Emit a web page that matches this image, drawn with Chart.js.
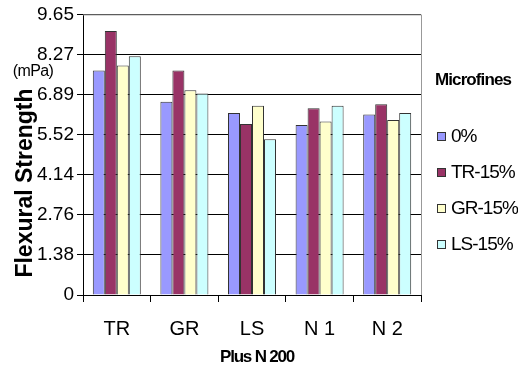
<!DOCTYPE html>
<html>
<head>
<meta charset="utf-8">
<script src="https://cdn.jsdelivr.net/npm/chart.js@4/dist/chart.umd.min.js"></script>
<style>
  html, body { margin: 0; padding: 0; background: #fff; }
  #wrap { position: relative; width: 518px; height: 371px; }
  #legend { position: absolute; left: 435px; top: 70px; font-family: 'Liberation Sans', Arial, sans-serif; color: #000; }
  #legend .title { font-weight: bold; font-size: 17px; height: 48px; letter-spacing: -0.9px; }
  #legend .item { font-size: 19px; height: 36px; display: flex; align-items: center; letter-spacing: -1px; }
  #legend .box { width: 7px; height: 7px; border: 1px solid #333; margin-right: 5px; margin-left: 2px; }
</style>
</head>
<body>
<div id="wrap">
  <canvas id="chart" width="518" height="371"></canvas>
  <div id="legend"><div class="title">Microfines</div></div>
</div>
<script>
const categories = ["TR", "GR", "LS", "N 1", "N 2"];
const seriesNames = ["0%", "TR-15%", "GR-15%", "LS-15%"];
const plain = [7.72, 6.65, 6.26, 5.85, 6.21];
const tr15 = [9.08, 7.72, 5.88, 6.42, 6.56];
const gr15 = [7.89, 7.04, 6.51, 5.97, 6.02];
const ls15 = [8.21, 6.93, 5.36, 6.51, 6.26];
const yTicks = ["0", "1.38", "2.76", "4.14", "5.52", "6.89", "8.27", "9.65"];
const colors = ["#9999FF", "#993366", "#FFFFCC", "#CCFFFF"];

const sans = "'Liberation Sans', Arial, sans-serif";
const yMax = 9.65;

const extraText = {
  id: "extraText",
  afterDraw(chart) {
    const ctx = chart.ctx;
    const area = chart.chartArea;
    ctx.save();
    // plot border top and right (gray)
    ctx.strokeStyle = "#999";
    ctx.lineWidth = 1;
    ctx.beginPath();
    ctx.moveTo(area.left, area.top + 0.5);
    ctx.lineTo(area.right + 0.5, area.top + 0.5);
    ctx.lineTo(area.right + 0.5, area.bottom);
    ctx.stroke();
    ctx.fillStyle = "#000";
    ctx.textAlign = "center";
    ctx.textBaseline = "middle";
    // unit label
    ctx.font = "16px " + sans;
    ctx.letterSpacing = "-0.6px";
    ctx.fillText("(mPa)", 33, 72);
    // x title
    ctx.font = "bold 17px " + sans;
    ctx.letterSpacing = "-1.2px";
    ctx.fillText("Plus N 200", 257, 357);
    // y title
    ctx.letterSpacing = "0px";
    ctx.translate(26, 183);
    ctx.rotate(-Math.PI / 2);
    ctx.font = "bold 23px " + sans;
    ctx.fillText("Flexural Strength", 0, 0);
    ctx.restore();
  }
};

const datasets = [plain, tr15, gr15, ls15].map((d, i) => ({
  label: seriesNames[i],
  data: d,
  backgroundColor: colors[i],
  borderColor: "#333",
  borderWidth: 1,
  categoryPercentage: 0.71,
  barPercentage: 1.0
}));

new Chart(document.getElementById("chart"), {
  type: "bar",
  data: { labels: categories, datasets: datasets },
  plugins: [extraText],
  options: {
    responsive: false,
    animation: false,
    layout: { padding: { left: 0, right: 97, top: 11, bottom: 0 } },
    plugins: { legend: { display: false }, tooltip: { enabled: false } },
    scales: {
      x: {
        afterFit: s => { s.height = 76; },
        grid: { offset: true, drawOnChartArea: false, color: "#000", tickLength: 7 },
        border: { color: "#000" },
        ticks: { color: "#000", font: { family: sans, size: 20 }, padding: 15 }
      },
      y: {
        min: 0,
        max: yMax,
        afterFit: s => { s.width = 83; },
        afterBuildTicks: s => { s.ticks = yTicks.map(t => ({ value: parseFloat(t) })); },
        grid: { color: "#000", tickLength: 6 },
        border: { color: "#000" },
        ticks: {
          color: "#000",
          font: { family: sans, size: 19 },
          padding: 3,
          callback: (v, i) => yTicks[i]
        }
      }
    }
  }
});

const legend = document.getElementById("legend");
seriesNames.forEach((name, i) => {
  const item = document.createElement("div");
  item.className = "item";
  const box = document.createElement("span");
  box.className = "box";
  box.style.background = colors[i];
  item.appendChild(box);
  item.appendChild(document.createTextNode(name));
  legend.appendChild(item);
});
</script>
</body>
</html>
